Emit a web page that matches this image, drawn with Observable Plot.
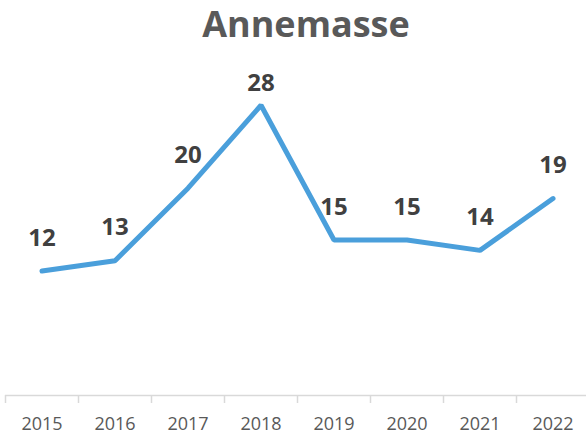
<!DOCTYPE html>
<html><head><meta charset="utf-8">
<script src="https://cdn.jsdelivr.net/npm/d3@7"></script>
<script src="https://cdn.jsdelivr.net/npm/@observablehq/plot@0.6"></script>
<style>
body{margin:0;background:#fff;font-family:"Open Sans",sans-serif;}
#title{height:48px;line-height:48px;text-align:center;font-size:36px;font-weight:bold;color:#595959;padding-left:26px;width:560px;}
</style></head><body>
<div id="title"></div>
<div id="chart"></div>
<script>
const title = "Annemasse";
const years = [2015, 2016, 2017, 2018, 2019, 2020, 2021, 2022];
const values = [12, 13, 20, 28, 15, 15, 14, 19];

const data = years.map((year, i) => ({year, value: values[i]}));
const maxValue = d3.max(values);
const boundaries = [...years.map(y => y - 0.5), years[years.length - 1] + 0.5];

document.getElementById("title").textContent = title;

const chart = Plot.plot({
  width: 586, height: 391,
  marginTop: 36, marginBottom: 44, marginLeft: 5, marginRight: -3,
  style: {fontFamily: '"Open Sans", sans-serif', background: "#fff"},
  x: {type: "linear", domain: [years[0] - 0.5, years[years.length - 1] + 0.5], label: null},
  y: {domain: [0, 30], axis: null, label: null},
  marks: [
    Plot.ruleY([0], {stroke: "#d9d9d9", strokeWidth: 1.5}),
    Plot.axisX(boundaries, {tickSize: 8, tickFormat: () => "", stroke: "#d9d9d9", strokeWidth: 1.5, label: null}),
    Plot.axisX(years, {tickSize: 0, tickPadding: 22, tickFormat: d => String(d), fontSize: 18, letterSpacing: "0.8px", fill: "#595959", label: null}),
    Plot.line(data, {x: "year", y: "value", stroke: "#4a9fdb", strokeWidth: 5, strokeLinecap: "round", strokeLinejoin: "miter"}),
    Plot.text(data.filter(d => d.value < maxValue), {x: "year", y: "value", text: "value", dy: -33, fontSize: 24, fontWeight: "bold", fill: "#404040"}),
    Plot.text(data.filter(d => d.value === maxValue), {x: "year", y: "value", text: "value", dy: -22, fontSize: 24, fontWeight: "bold", fill: "#404040"})
  ]
});
document.getElementById("chart").appendChild(chart);
</script>
</body></html>
